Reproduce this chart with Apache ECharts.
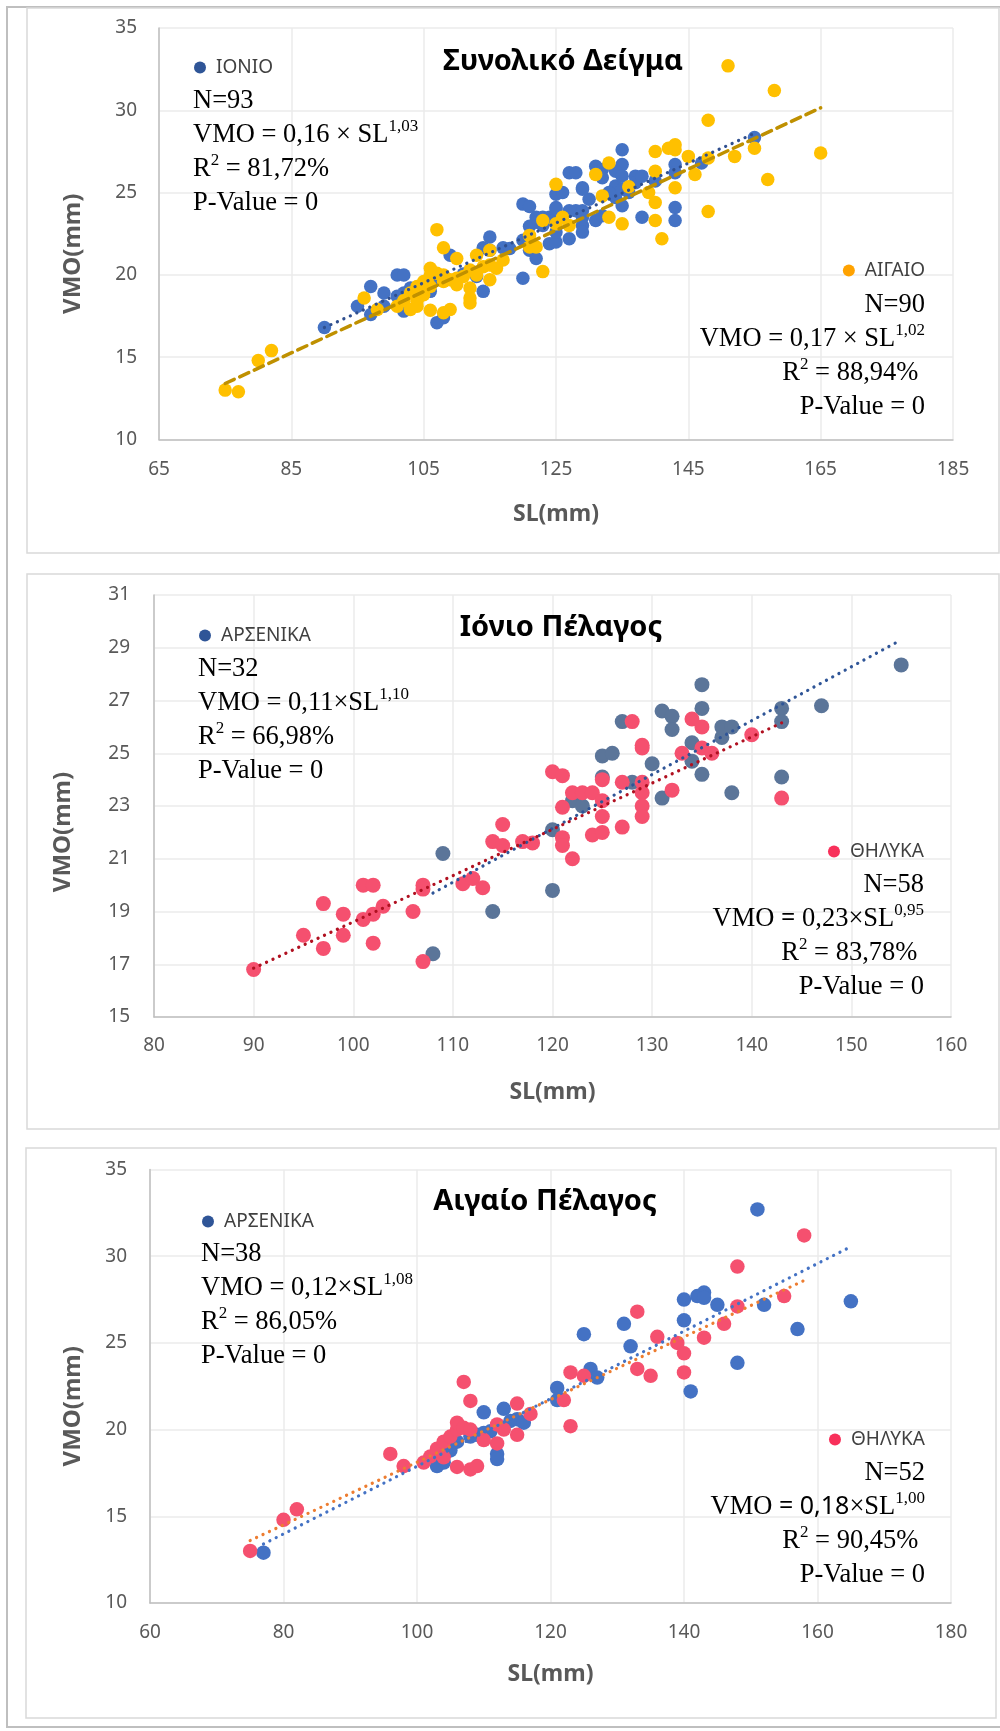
<!DOCTYPE html>
<html>
<head>
<meta charset="utf-8">
<script src="https://cdn.jsdelivr.net/npm/echarts@6/dist/echarts.min.js"></script>
<style>
html,body{margin:0;padding:0;background:#fff;}
#c{width:1000px;height:1731px;}
</style>
</head>
<body>
<div id="c"></div>
<script>
// ---------------- DATA (SL mm, VMO mm) ----------------
// Ionian Sea – males / females
const ionMale = [[108,17.4],[109,21.2],[114,19.0],[120,22.1],[120,19.8],[122,23.2],[123,23.0],[125,24.9],[126,25.0],[125,24.1],[127,26.2],[128,23.9],[130,24.6],[131,26.6],[131,23.3],[132,26.4],[132,25.9],[134,25.4],[134,24.7],[135,27.6],[135,26.7],[135,24.2],[137,26.0],[137,25.6],[138,26.0],[138,23.5],[143,26.7],[143,26.2],[143,24.1],[147,26.8],[155,28.35]];
const ionFemale = [[90,16.8],[95,18.1],[97,19.3],[97,17.6],[99,18.9],[99,18.1],[101,20.0],[102,20.0],[101,18.7],[102,18.9],[102,17.8],[103,19.2],[106,19.0],[107,20.0],[107,19.85],[107,17.1],[111,20.05],[112,20.25],[113,19.9],[114,21.65],[115,22.3],[115,21.5],[117,21.65],[118,21.6],[120,24.3],[121,24.15],[121,22.95],[121,21.8],[121,21.5],[122,23.5],[123,23.5],[124,23.5],[122,21.0],[124,21.9],[125,22.0],[125,22.6],[125,23.2],[125,24.0],[127,22.2],[127,23.9],[128,26.2],[129,25.3],[129,25.2],[129,23.9],[129,23.5],[129,23.0],[129,22.6],[132,23.6],[133,25.0],[134,26.3],[135,26.0],[135,25.2],[136,25.0],[140,25.7],[143,23.3]];
// Aegean Sea – males / females
const aegMale = [[77,12.9],[103,17.9],[104,18.1],[105,18.8],[106,19.3],[108,19.6],[109,19.7],[110,19.8],[110,21.0],[111,19.9],[112,18.6],[112,18.3],[113,21.2],[114,20.5],[115,20.6],[116,20.4],[121,22.4],[121,21.7],[125,25.5],[126,23.5],[127,23.0],[131,26.1],[132,24.8],[140,27.5],[140,26.3],[141,22.2],[142,27.7],[143,27.9],[143,27.6],[145,27.2],[148,23.85],[151,32.7],[152,27.2],[157,25.8],[165,27.4]];
const aegFemale = [[75,13.0],[80,14.8],[82,15.4],[96,18.6],[98,17.9],[101,18.1],[102,18.45],[103,18.9],[104,19.3],[104,18.4],[105,19.6],[106,20.0],[106,20.4],[106,17.85],[107,22.75],[107,20.1],[108,21.65],[108,20.0],[108,17.7],[109,17.9],[110,19.4],[112,20.3],[112,19.2],[113,20.0],[115,21.5],[115,19.7],[117,20.9],[122,21.7],[123,20.2],[123,23.3],[125,23.1],[133,26.8],[133,23.5],[135,23.1],[136,25.35],[139,25.0],[140,24.4],[140,23.3],[143,25.3],[146,26.1],[148,29.4],[148,27.1],[155,27.7],[158,31.2]];
// trend-line end points
const trendIonio = [[90,16.8],[155,28.6]];
const trendAigaio = [[75,13.4],[165,30.15]];
const trendIonMale = [[108,19.7],[155,29.3]];
const trendIonFemale = [[90,16.85],[143,26.15]];
const trendAegMale = [[77,13.4],[165,30.55]];
const trendAegFemale = [[75,13.6],[158,28.6]];
// axis ranges / ticks
const xTicks = [{min:65,max:185,step:20},{min:80,max:160,step:10},{min:60,max:180,step:20}];
const yTicks = [{min:10,max:35,step:5},{min:15,max:31,step:2},{min:10,max:35,step:5}];
const titles = ['Συνολικό Δείγμα','Ιόνιο Πέλαγος','Αιγαίο Πέλαγος'];

// ---------------- CHART ----------------
const chart = echarts.init(document.getElementById('c'), null, {renderer:'canvas', width:1000, height:1731});
const SANS = 'Noto Sans';
const SERIF = 'Liberation Serif';
const grids = [
  {left:159, top:28, width:794, height:411.5},
  {left:154, top:595, width:797, height:422},
  {left:150, top:1169.5, width:801, height:433.5}
];
const yNameGap = [74, 79, 65];
const yNameShift = [20, 26, 20];
const xNameGap = [63, 64, 60];
const xLabelMargin = [21, 19, 20];
const yLabelMargin = [22, 24, 23];

const xAxis = xTicks.map((t,i)=>({
  type:'value', gridIndex:i, min:t.min, max:t.max, interval:t.step,
  name:'SL(mm)', nameLocation:'middle', nameGap:xNameGap[i],
  nameTextStyle:{fontFamily:SANS, fontWeight:'bold', fontSize:23, color:'#595959'},
  axisLine:{show:true, onZero:false, lineStyle:{color:'#BFBFBF', width:1.5}},
  axisTick:{show:false},
  splitLine:{show:true, lineStyle:{color:'#EBEBEB', width:1.5}},
  axisLabel:{fontFamily:SANS, fontSize:19, color:'#595959', margin:xLabelMargin[i]}
}));
const yAxis = yTicks.map((t,i)=>({
  type:'value', gridIndex:i, min:t.min, max:t.max, interval:t.step,
  name:'VMO(mm)', nameLocation:'middle', nameGap:yNameGap[i], nameRotate:90,
  nameTextStyle:{fontFamily:SANS, fontWeight:'bold', fontSize:24, color:'#595959', padding:[0, 2*yNameShift[i], 0, 0]},
  axisLine:{show:true, onZero:false, lineStyle:{color:'#BFBFBF', width:1.5}},
  axisTick:{show:false},
  splitLine:{show:true, lineStyle:{color:'#EBEBEB', width:1.5}},
  axisLabel:{fontFamily:SANS, fontSize:19, color:'#595959', margin:yLabelMargin[i]}
}));

function scatter(name, data, idx, color, size){
  return {type:'scatter', name, data, xAxisIndex:idx, yAxisIndex:idx, symbol:'circle', symbolSize:size,
    itemStyle:{color, opacity:1}, z:2, silent:true};
}
function trend(name, data, idx, color, type, width){
  return {type:'line', name, data, xAxisIndex:idx, yAxisIndex:idx, symbol:'none', z:4, silent:true,
    lineStyle:{color, width, type, cap:'round'}};
}
const series = [
  scatter('ΙΟΝΙΟ', ionMale.concat(ionFemale), 0, '#4472C4', 13.5),
  scatter('ΑΙΓΑΙΟ', aegMale.concat(aegFemale), 0, '#FFC000', 13.5),
  trend('Τάση ΙΟΝΙΟ', trendIonio, 0, '#2F4F8F', [0.1,7], 3.2),
  trend('Τάση ΑΙΓΑΙΟ', trendAigaio, 0, '#BF9000', [10,6], 3.5),
  scatter('ΑΡΣΕΝΙΚΑ', ionMale, 1, '#5B7599', 15),
  scatter('ΘΗΛΥΚΑ', ionFemale, 1, '#F5506F', 15),
  trend('Τάση Αρσενικά Ι', trendIonMale, 1, '#2F5597', [0.1,7], 3.2),
  trend('Τάση Θηλυκά Ι', trendIonFemale, 1, '#B01020', [0.1,7], 3.2),
  scatter('ΑΡΣΕΝΙΚΑ', aegMale, 2, '#4472C4', 14.5),
  scatter('ΘΗΛΥΚΑ', aegFemale, 2, '#F5506F', 14.5),
  trend('Τάση Αρσενικά Α', trendAegMale, 2, '#4472C4', [0.1,7], 3.2),
  trend('Τάση Θηλυκά Α', trendAegFemale, 2, '#ED7D31', [0.1,7], 3.2)
];

function legend(name, color, pos){
  return Object.assign({
    data:[{name, itemStyle:{color}}], padding:0, icon:'circle', itemWidth:12, itemHeight:12,
    selectedMode:false, orient:'horizontal',
    textStyle:{fontFamily:SANS, fontSize:19, color:'#404040', padding:[0,0,0,5]}
  }, pos);
}
const legends = [
  legend('ΙΟΝΙΟ', '#2F5597', {left:194, top:58}),
  legend('ΑΙΓΑΙΟ', '#FFA200', {right:75, top:261}),
  legend('ΑΡΣΕΝΙΚΑ', '#2F5597', {left:199, top:626}),
  legend('ΘΗΛΥΚΑ', '#F8305A', {right:76, top:842}),
  legend('ΑΡΣΕΝΙΚΑ', '#2F5597', {left:202, top:1212}),
  legend('ΘΗΛΥΚΑ', '#F8305A', {right:75, top:1430})
];

const rich = {
  n:{fontFamily:SERIF, fontSize:26.5, color:'#404040', lineHeight:34},
  s:{fontFamily:SANS, fontSize:25, color:'#111', lineHeight:34},
  sup:{fontFamily:SERIF, fontSize:17, color:'#404040', lineHeight:24, verticalAlign:'top'}
};
function block(x, yFirstCenter, align, lines){
  return {type:'text', silent:true, z:10,
    style:{text:lines.join('\n'), x, y:yFirstCenter-17, align, verticalAlign:'top', lineHeight:34, rich}};
}
function box(x,y,w,h,color,lw){
  return {type:'rect', silent:true, z:-1, shape:{x,y,width:w,height:h}, style:{fill:'none', stroke:color, lineWidth:lw}};
}
const graphic = [
  box(7,7,1000,1720,'#BFBFBF',2),
  box(27,8,972,545,'#D9D9D9',1.5),
  box(27,574,972,555,'#D9D9D9',1.5),
  box(26,1148,970,570,'#D9D9D9',1.5),
  block(193, 101, 'left', ['{n|N=93}','{n|VMO = 0,16 × SL}{sup|1,03}','{n|R}{sup|2}{n| = 81,72%}','{n|P-Value = 0}']),
  block(925, 305, 'right', ['{n|N=90}','{n|VMO = 0,17 × SL}{sup|1,02}','{n|R}{sup|2}{n| = 88,94% }','{n|P-Value = 0}']),
  block(198, 669, 'left', ['{n|N=32}','{n|VMO = 0,11×SL}{sup|1,10}','{n|R}{sup|2}{n| = 66,98%}','{n|P-Value = 0}']),
  block(924, 885, 'right', ['{n|N=58}','{n|VMO }{s|=}{n| 0,23×SL}{sup|0,95}','{n|R}{sup|2}{n| = 83,78% }','{n|P-Value = 0}']),
  block(201, 1254, 'left', ['{n|N=38}','{n|VMO = 0,12×SL}{sup|1,08}','{n|R}{sup|2}{n| = 86,05%}','{n|P-Value = 0}']),
  block(925, 1473, 'right', ['{n|N=52}','{n|VMO }{s|= 0,18}{n|×SL}{sup|1,00}','{n|R}{sup|2}{n| = 90,45% }','{n|P-Value = 0}'])
];

const titleCenters = [[563,62],[561,628],[545,1202]];
const title = titles.map((t,i)=>({
  text:t, left:titleCenters[i][0], top:titleCenters[i][1]-18, textAlign:'center', padding:0,
  textStyle:{fontFamily:SANS, fontWeight:'bold', fontSize:29, lineHeight:36, color:'#000'}
}));

chart.setOption({
  animation:false,
  backgroundColor:'#fff',
  title, grid:grids, xAxis, yAxis, series, legend:legends, graphic
});
</script>
</body>
</html>
